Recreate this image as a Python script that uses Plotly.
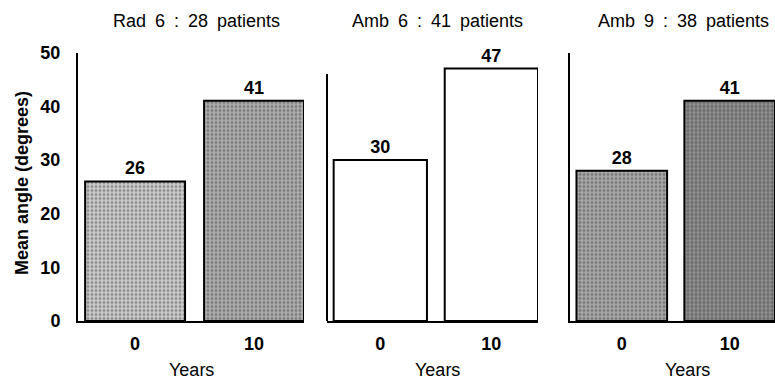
import plotly.graph_objects as go

# ---- data ----
years = ["0", "10"]
panel_titles = ["Rad 6 : 28 patients", "Amb 6 : 41 patients", "Amb 9 : 38 patients"]
rad6 = [26, 41]
amb6 = [30, 47]
amb9 = [28, 41]
y_ticks = [0, 10, 20, 30, 40, 50]
x_axis_label = "Years"
y_axis_label = "Mean angle (degrees)"

W, H = 775, 383
series = [rad6, amb6, amb9]
# pixel domains of each panel
dom_px = [(78, 304), (327, 538), (570, 775)]
title_cx = [196, 437, 683]
years_cx = [191, 437, 687]
bg_colors = [["#d0d0d0", "#b0b0b0"], ["white", "white"], ["#ababab", "#8e8e8e"]]
fg_colors = [["#505050", "#303030"], ["white", "white"], ["#2a2a2a", "#151515"]]
shapes_pat = [".", "", "."]

FONT = "Liberation Sans, Arial, sans-serif"
y_bot = 1 - 321 / H
y_top = 1 - 52.5 / H

fig = go.Figure()
for i, vals in enumerate(series):
    xa = "x" if i == 0 else f"x{i+1}"
    ya = "y" if i == 0 else f"y{i+1}"
    fig.add_trace(go.Bar(
        x=years, y=vals, xaxis=xa, yaxis=ya,
        width=0.84,
        text=[str(v) for v in vals], textposition="outside",
        textfont=dict(family=FONT, size=18, color="black", weight="bold"),
        cliponaxis=False,
        marker=dict(
            color=bg_colors[i],
            line=dict(color="black", width=2),
            pattern=dict(shape=shapes_pat[i], fgcolor=fg_colors[i],
                         bgcolor=bg_colors[i], size=4, solidity=0.45,
                         fillmode="overlay"),
        ),
        showlegend=False, hoverinfo="skip",
    ))
    d0, d1 = dom_px[i]
    xkey = "xaxis" if i == 0 else f"xaxis{i+1}"
    ykey = "yaxis" if i == 0 else f"yaxis{i+1}"
    fig.layout[xkey] = dict(
        domain=[d0 / W, d1 / W], anchor=ya, type="category",
        range=[-0.48, 1.42], showline=True, linecolor="black", linewidth=2,
        showgrid=False, zeroline=False, ticks="", automargin=False,
        tickfont=dict(family=FONT, size=18, color="black", weight="bold"),
        ticklabelstandoff=5, fixedrange=True,
    )
    fig.layout[ykey] = dict(
        domain=[y_bot, y_top], anchor=xa, range=[0, 50],
        showline=(i != 1), linecolor="black", linewidth=2, mirror=False,
        showgrid=False, zeroline=False, ticks="", automargin=False,
        tickvals=y_ticks, showticklabels=(i == 0),
        tickfont=dict(family=FONT, size=18, color="black", weight="bold"),
        ticklabelstandoff=12, fixedrange=True,
    )
    fig.add_annotation(text=panel_titles[i].replace(" ", "\u2002"),
                       x=title_cx[i] / W, y=1 - 21 / H,
                       xref="paper", yref="paper", showarrow=False,
                       xanchor="center", yanchor="middle",
                       font=dict(family=FONT, size=18, color="black"))
    fig.add_annotation(text=x_axis_label, x=years_cx[i] / W, y=1 - 370 / H,
                       xref="paper", yref="paper", showarrow=False,
                       xanchor="center", yanchor="middle",
                       font=dict(family=FONT, size=18, color="black"))

# shorter axis line of the middle panel
fig.add_shape(type="line", xref="x2 domain", yref="y2", x0=0, x1=0, y0=0, y1=46,
              line=dict(color="black", width=2))

fig.add_annotation(text=y_axis_label, x=22 / W, y=1 - 183 / H,
                   xref="paper", yref="paper", showarrow=False, textangle=-90,
                   xanchor="center", yanchor="middle",
                   font=dict(family=FONT, size=18, color="black", weight="bold"))

fig.update_layout(
    width=W, height=H, margin=dict(l=0, r=0, t=0, b=0, autoexpand=False),
    paper_bgcolor="white", plot_bgcolor="white", bargap=0.16,
)
fig.write_html("out.html", config={"displayModeBar": False, "staticPlot": True},
               post_script="document.body.style.margin='0';")
